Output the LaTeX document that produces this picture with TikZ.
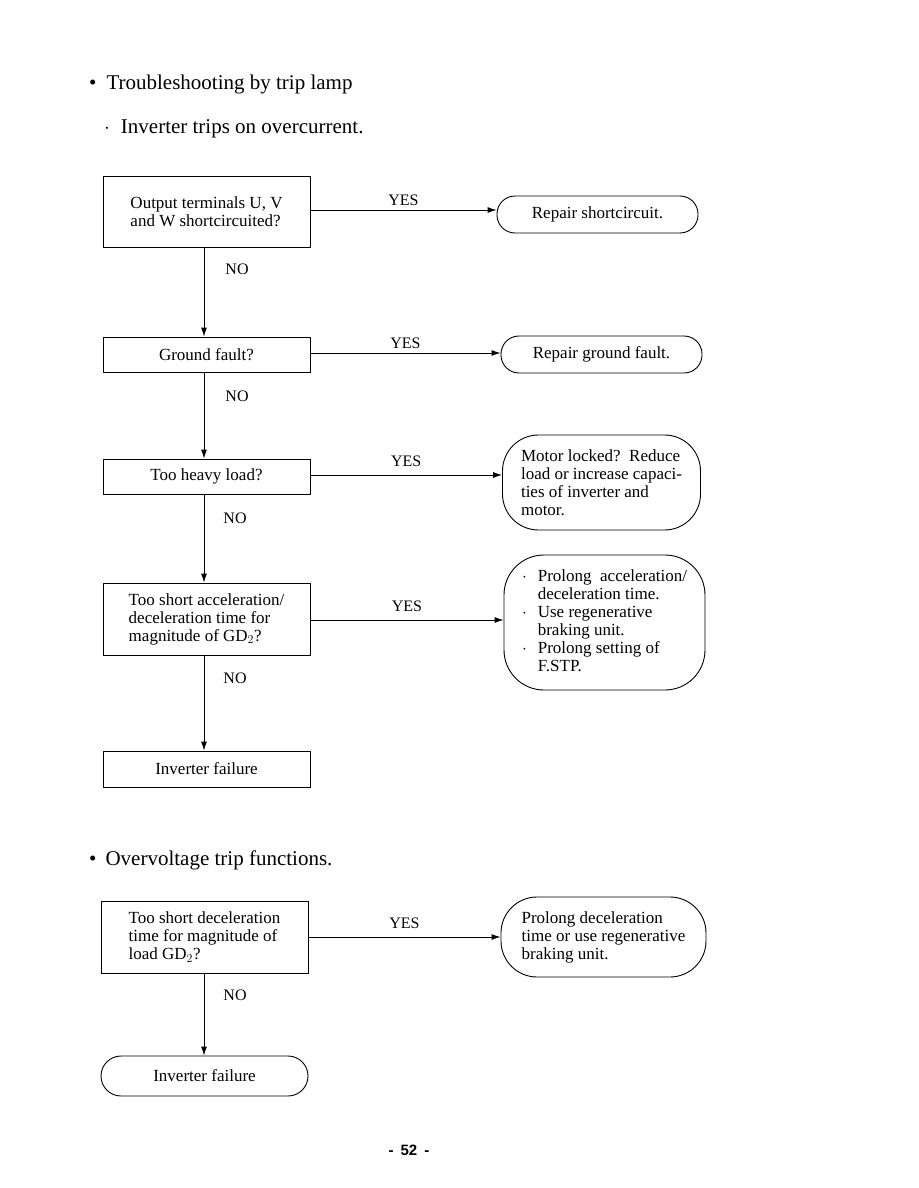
\documentclass[tikz,border=0pt]{standalone}
\usepackage{fontspec}
\setmainfont{Liberation Serif}
\newfontfamily\pagefont{Liberation Sans}
\usetikzlibrary{arrows.meta}
\begin{document}
\begin{tikzpicture}[x=1pt,y=-1pt,
  every node/.style={inner sep=0pt},
  boxtext/.style={font=\fontsize{17}{18}\selectfont},
  qbox/.style={boxtext,draw,line width=0.9pt,minimum width=207pt,align=left},
  rbox/.style={boxtext,draw,line width=0.9pt,align=left},
  lbl/.style={font=\fontsize{16}{18}\selectfont},
  conn/.style={line width=0.9pt,-{Latex[length=9pt,width=6pt]}},
  head/.style={font=\fontsize{21}{24}\selectfont,anchor=base west}]
\useasboundingbox (0,0) rectangle (918,1188);
\fill[white] (0,0) rectangle (918,1188);

% headings
\node[head] (h1) at (89,90) {\textbullet\hspace{10pt}Troubleshooting by trip lamp};
\node[head] (h2) at (104,134) {$\cdot$\hspace{11pt}Inverter trips on overcurrent.};
\node[head] (h3) at (89,865) {\textbullet\hspace{9pt}Overvoltage trip functions.};

% first chart
\node[qbox,minimum height=71pt] (b1) at (206.5,211.5) {Output terminals U, V\\and W shortcircuited?};
\node[qbox,minimum height=35pt,align=center] (b2) at (206.5,354.5) {Ground fault?};
\node[qbox,minimum height=35pt,align=center] (b3) at (206.5,476.5) {Too heavy load?};
\node[qbox,minimum height=72pt] (b4) at (206.5,619) {Too short acceleration/\\deceleration time for\\magnitude of GD$_2$?};
\node[qbox,minimum height=36pt,align=center] (b5) at (206.5,769) {Inverter failure};

\node[rbox,minimum width=201pt,minimum height=37pt,rounded corners=18pt] (r1) at (597.5,214.5) {Repair shortcircuit.};
\node[rbox,minimum width=201pt,minimum height=37pt,rounded corners=18pt] (r2) at (601.5,354.5) {Repair ground fault.};
\node[rbox,minimum width=198pt,minimum height=95pt,rounded corners=36pt] (r3) at (601.5,482.5) {Motor locked?\ \ Reduce\\load or increase capaci-\\ties of inverter and\\motor.};
\node[rbox,minimum width=201pt,minimum height=135pt,rounded corners=40pt] (r4) at (604.5,622.5)
  {\begin{tabular}{@{}l@{\hspace{11pt}}l@{}}
   $\cdot$ & Prolong\ \ acceleration/\\
           & deceleration time.\\
   $\cdot$ & Use regenerative\\
           & braking unit.\\
   $\cdot$ & Prolong setting of\\
           & F.STP.
   \end{tabular}};

% YES arrows
\draw[conn] ([yshift=1.5pt]b1.east) -- ([yshift=1.5pt]b1.east -| r1.west) node[lbl,midway,above=4pt] (y1) {YES};
\draw[conn] ([yshift=1.5pt]b2.east) -- ([yshift=1.5pt]b2.east -| r2.west) node[lbl,midway,above=4pt] (y2) {YES};
\draw[conn] ([yshift=1.5pt]b3.east) -- ([yshift=1.5pt]b3.east -| r3.west) node[lbl,midway,above=8pt] (y3) {YES};
\draw[conn] ([yshift=-1pt]b4.east) -- ([yshift=-1pt]b4.east -| r4.west) node[lbl,midway,above=8pt] (y4) {YES};

% NO arrows
\draw[conn] ([xshift=-2.5pt]b1.south) -- ([xshift=-2.5pt]b2.north) node[lbl,pos=0.24,right=21pt] (n1) {NO};
\draw[conn] ([xshift=-2.5pt]b2.south) -- ([xshift=-2.5pt]b3.north) node[lbl,pos=0.28,right=21pt] (n2) {NO};
\draw[conn] ([xshift=-2.5pt]b3.south) -- ([xshift=-2.5pt]b4.north) node[lbl,pos=0.27,right=19pt] (n3) {NO};
\draw[conn] ([xshift=-2.5pt]b4.south) -- ([xshift=-2.5pt]b5.north) node[lbl,pos=0.24,right=19pt] (n4) {NO};

% second chart
\node[qbox,minimum height=72pt] (b6) at (204.5,937) {Too short deceleration\\time for magnitude of\\load GD$_2$?};
\node[rbox,minimum width=207pt,minimum height=40pt,rounded corners=20pt] (r7) at (204.5,1076) {Inverter failure};
\node[rbox,minimum width=205pt,minimum height=80pt,rounded corners=36pt] (r6) at (603.5,937) {Prolong deceleration\\time or use regenerative\\braking unit.};

\draw[conn] (b6.east) -- (b6.east -| r6.west) node[lbl,midway,above=8pt] (y6) {YES};
\draw[conn] ([xshift=-0.5pt]b6.south) -- ([xshift=-0.5pt]r7.north) node[lbl,pos=0.27,right=19pt] (n6) {NO};

% page number
\node[font=\pagefont\bfseries\fontsize{15}{17}\selectfont] (pg) at (409,1150) {-\hspace{7pt}52\hspace{7pt}-};
\end{tikzpicture}
\end{document}
